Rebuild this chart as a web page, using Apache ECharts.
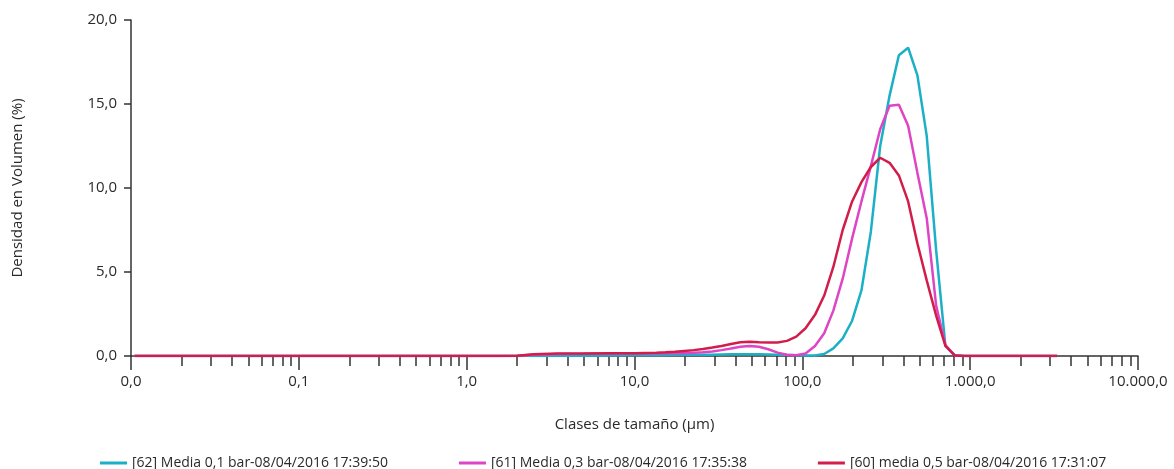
<!DOCTYPE html>
<html>
<head>
<meta charset="utf-8">
<script src="https://cdn.jsdelivr.net/npm/echarts@6/dist/echarts.min.js"></script>
<style>
  html, body { margin: 0; padding: 0; background: #ffffff; }
  #chart { width: 1174px; height: 469px; }
</style>
</head>
<body>
<div id="chart"></div>
<script>
// Particle size classes (µm)
const sizes = [0.0105, 1.5, 2.0, 2.5, 3.5, 5, 7, 10, 13.5, 15.3, 17.4, 19.8, 22.5, 25.6, 29.1, 33.0, 37.6, 42.7, 48.5, 55.1, 62.7, 71.2, 81, 92, 104.5, 119, 135, 153, 174, 198, 225, 256, 291, 331, 376, 427, 485, 551, 627, 712, 809, 920, 1100, 3300];

// Volume density (%)
const series62 = [0, 0, 0, 0, 0.01, 0.02, 0.03, 0.04, 0.05, 0.05, 0.06, 0.06, 0.07, 0.08, 0.08, 0.09, 0.1, 0.1, 0.1, 0.1, 0.09, 0.08, 0.06, 0.04, 0.03, 0.03, 0.12, 0.45, 1.05, 2.1, 3.9, 7.4, 12.5, 15.5, 17.9, 18.35, 16.7, 13.1, 6.3, 0.6, 0.05, 0, 0, 0];
const series61 = [0, 0, 0.02, 0.08, 0.12, 0.13, 0.14, 0.15, 0.15, 0.16, 0.17, 0.18, 0.2, 0.22, 0.27, 0.35, 0.45, 0.55, 0.6, 0.55, 0.4, 0.2, 0.07, 0.05, 0.15, 0.6, 1.35, 2.7, 4.6, 7.0, 9.2, 11.3, 13.5, 14.9, 14.95, 13.7, 10.9, 8.2, 3.0, 0.65, 0.03, 0, 0, 0];
const series60 = [0, 0, 0.02, 0.1, 0.15, 0.15, 0.16, 0.17, 0.2, 0.22, 0.25, 0.3, 0.35, 0.42, 0.5, 0.6, 0.72, 0.82, 0.85, 0.82, 0.8, 0.8, 0.9, 1.15, 1.65, 2.45, 3.6, 5.3, 7.5, 9.2, 10.35, 11.25, 11.8, 11.5, 10.75, 9.2, 6.7, 4.5, 2.4, 0.6, 0.03, 0, 0, 0];

const seriesNames = [
  '[62] Media 0,1 bar-08/04/2016 17:39:50',
  '[61] Media 0,3 bar-08/04/2016 17:35:38',
  '[60] media 0,5 bar-08/04/2016 17:31:07'
];

// Tick labels
const xMajorTicks = [0.01, 0.1, 1, 10, 100, 1000, 10000];
const xTickLabels = ['0,0', '0,1', '1,0', '10,0', '100,0', '1.000,0', '10.000,0'];
const minorMultipliers = [2, 3, 4, 5, 6, 7, 8, 9];
const yTickLabels = ['0,0', '5,0', '10,0', '15,0', '20,0'];

const minorTicks = [];
for (let i = 0; i < xMajorTicks.length - 1; i++) {
  for (const m of minorMultipliers) minorTicks.push(+(xMajorTicks[i] * m).toPrecision(6));
}

const colors = ['#1cb0c6', '#de45c4', '#d21d4b'];
const FONT = '"Open Sans", "Noto Sans", sans-serif';
const AX = '#333333';
const TXT = '#2a2a2a';

function xLabel(v) {
  for (let i = 0; i < xMajorTicks.length; i++) {
    if (Math.abs(Math.log10(v) - Math.log10(xMajorTicks[i])) < 1e-6) return xTickLabels[i];
  }
  return '';
}

const chart = echarts.init(document.getElementById('chart'), null, { renderer: 'canvas' });
const data = [series62, series61, series60];

chart.setOption({
  animation: false,
  backgroundColor: '#ffffff',
  color: colors,
  grid: { left: 131, right: 36, top: 20, bottom: 113, containLabel: false, outerBoundsMode: 'none' },
  legend: {
    left: 95, top: 451,
    itemWidth: 27, itemHeight: 3, itemGap: 71,
    icon: 'rect',
    textStyle: { fontFamily: FONT, fontSize: 14, color: TXT },
    data: seriesNames
  },
  xAxis: [{
    type: 'log', logBase: 10, min: 0.01, max: 10000,
    name: 'Clases de tamaño (µm)', nameLocation: 'middle', nameGap: 61,
    nameTextStyle: { fontFamily: FONT, fontSize: 15, color: TXT },
    axisLine: { show: true, onZero: false, lineStyle: { color: AX, width: 1.5 } },
    axisTick: { show: true, inside: false, length: 14, lineStyle: { color: AX, width: 1.5 }, customValues: xMajorTicks },
    axisLabel: { show: true, margin: 18, fontFamily: FONT, fontSize: 15, color: TXT, customValues: xMajorTicks, formatter: xLabel },
    splitLine: { show: false },
    minorTick: { show: false }
  }, {
    type: 'log', logBase: 10, min: 0.01, max: 10000, position: 'bottom',
    axisLine: { show: false },
    axisTick: { show: true, inside: false, length: 10, lineStyle: { color: AX, width: 1.5 }, customValues: minorTicks },
    axisLabel: { show: false },
    splitLine: { show: false }
  }],
  yAxis: {
    type: 'value', min: 0, max: 20, interval: 5,
    name: 'Densidad en Volumen (%)', nameLocation: 'middle', nameGap: 106,
    nameTextStyle: { fontFamily: FONT, fontSize: 15, color: TXT },
    axisLine: { show: true, lineStyle: { color: AX, width: 1.5 } },
    axisTick: { show: true, inside: false, length: 7, lineStyle: { color: AX, width: 1.5 } },
    axisLabel: { margin: 14, fontFamily: FONT, fontSize: 15, color: TXT,
      formatter: v => yTickLabels[Math.round(v / 5)] },
    splitLine: { show: false }
  },
  series: seriesNames.map((name, si) => ({
    name, type: 'line', xAxisIndex: 0,
    showSymbol: false, symbol: 'none', smooth: false,
    lineStyle: { width: 2.5, color: colors[si] },
    itemStyle: { color: colors[si] },
    data: sizes.map((s, i) => [s, data[si][i]])
  }))
});
</script>
</body>
</html>
